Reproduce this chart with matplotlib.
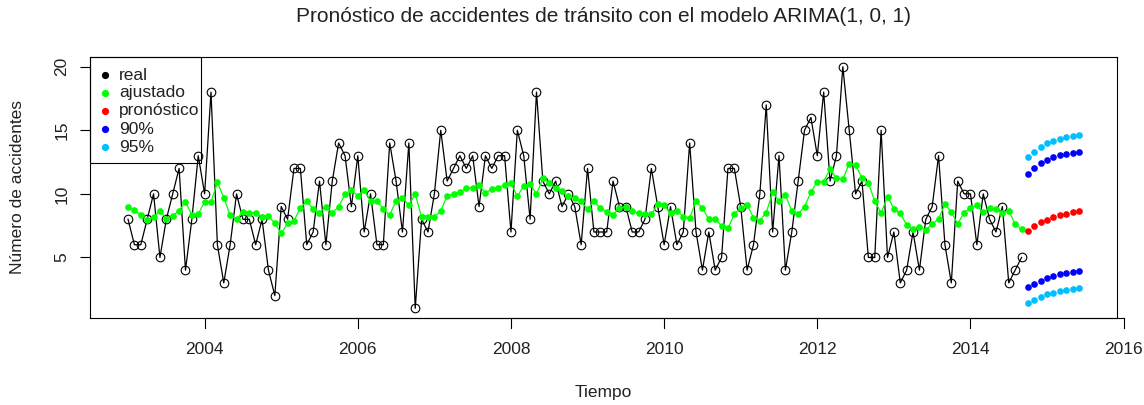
import matplotlib
matplotlib.use('Agg')
import matplotlib.pyplot as plt
import numpy as np
from matplotlib.transforms import offset_copy
from matplotlib.patches import Rectangle

plt.rcParams['font.family'] = ['Liberation Sans', 'DejaVu Sans']

# ---------------- data ----------------
start_year = 2003
real = [
    8, 6, 6, 8, 10, 5, 8, 10, 12, 4, 8, 13,        # 2003
    10, 18, 6, 3, 6, 10, 8, 8, 6, 8, 4, 2,         # 2004
    9, 8, 12, 12, 6, 7, 11, 6, 11, 14, 13, 9,      # 2005
    13, 7, 10, 6, 6, 14, 11, 7, 14, 1, 8, 7,       # 2006
    10, 15, 11, 12, 13, 12, 13, 9, 13, 12, 13, 13, # 2007
    7, 15, 13, 8, 18, 11, 10, 11, 9, 10, 9, 6,     # 2008
    12, 7, 7, 7, 11, 9, 9, 7, 7, 8, 12, 9,         # 2009
    6, 9, 6, 7, 14, 7, 4, 7, 4, 5, 12, 12,         # 2010
    9, 4, 6, 10, 17, 7, 13, 4, 7, 11, 15, 16,      # 2011
    13, 18, 11, 13, 20, 15, 10, 11, 5, 5, 15, 5,   # 2012
    7, 3, 4, 7, 4, 8, 9, 13, 6, 3, 11, 10,         # 2013
    10, 6, 10, 8, 7, 9, 3, 4, 5,                   # 2014
]
fitted = [
    8.93, 8.72, 8.35, 7.95, 8.16, 8.69, 8.06, 8.28, 8.68, 9.37, 8.35, 8.42,
    9.37, 9.37, 10.90, 9.71, 8.30, 8.00, 8.60, 8.53, 8.53, 8.17, 8.25, 7.69,
    6.90, 7.67, 7.90, 8.87, 9.43, 8.80, 8.50, 9.00, 8.50, 9.00, 9.97, 10.30,
    9.87, 10.30, 9.45, 9.45, 8.80, 8.35, 9.45, 9.70, 9.10, 10.00, 8.16, 8.22,
    8.16, 8.66, 9.87, 9.97, 10.13, 10.45, 10.50, 10.70, 10.05, 10.38, 10.50, 10.68,
    10.84, 9.80, 10.62, 10.80, 9.98, 11.23, 10.86, 10.45, 10.20, 9.80, 9.68, 9.40,
    8.80, 9.40, 8.87, 8.61, 8.35, 8.92, 9.00, 8.66, 8.48, 8.40, 8.40, 9.19,
    9.13, 8.48, 8.66, 8.21, 8.14, 9.40, 8.87, 8.00, 8.00, 7.48, 7.30, 8.40,
    8.92, 9.13, 8.14, 7.90, 8.53, 10.13, 9.40, 9.92, 8.66, 8.40, 9.00, 10.13,
    10.97, 10.97, 11.94, 11.23, 11.16, 12.36, 12.28, 11.23, 10.84, 9.45, 8.48, 9.79,
    8.82, 8.48, 7.56, 7.24, 7.43, 7.17, 7.61, 8.03, 9.19, 8.56, 7.64, 8.53,
    8.87, 9.13, 8.56, 8.87, 8.80, 8.53, 8.69, 7.61, 7.22,
]
forecast = [7.11, 7.46, 7.76, 7.98, 8.16, 8.31, 8.44, 8.55, 8.63]
upper90 = [11.57, 12.02, 12.41, 12.68, 12.86, 13.02, 13.15, 13.25, 13.33]
lower90 = [2.65, 2.89, 3.15, 3.36, 3.54, 3.68, 3.80, 3.88, 3.96]
upper95 = [12.89, 13.33, 13.67, 13.99, 14.12, 14.30, 14.46, 14.57, 14.65]
lower95 = [1.44, 1.65, 1.87, 2.10, 2.23, 2.36, 2.44, 2.52, 2.57]

x_ticks = [2004, 2006, 2008, 2010, 2012, 2014, 2016]
y_ticks = [5, 10, 15, 20]
legend_labels = ['real', 'ajustado', 'pronóstico', '90%', '95%']
title = 'Pronóstico de accidentes de tránsito con el modelo ARIMA(1, 0, 1)'
xlabel = 'Tiempo'
ylabel = 'Número de accidentes'

# ---------------- styles ----------------
GREEN = '#00ff00'
RED = '#ff0000'
BLUE = '#0000ff'
LBLUE = '#00bfff'
legend_colors = ['black', GREEN, RED, BLUE, LBLUE]
FS = 12.5
FS_TITLE = 15

W, H = 1144, 405
L, R, T, B = 90, 1117, 57, 318
fig = plt.figure(figsize=(W / 100, H / 100), dpi=100)
ax = fig.add_axes([L / W, 1 - B / H, (R - L) / W, (B - T) / H])

t_real = start_year + np.arange(len(real)) / 12
t_fc = start_year + (len(real) + np.arange(len(forecast))) / 12

ax.plot(t_real, real, color='black', lw=0.9, marker='o', ms=6.2,
        mfc='none', mec='black', mew=0.8, zorder=3)
ax.plot(t_real, fitted, color=GREEN, lw=0.9, marker='o', ms=4.8,
        mfc=GREEN, mec=GREEN, mew=0, zorder=4)
for vals, col in [(forecast, RED), (upper90, BLUE), (lower90, BLUE),
                  (upper95, LBLUE), (lower95, LBLUE)]:
    ax.plot(t_fc, vals, ls='none', marker='o', ms=4.8, mfc=col, mec=col,
            mew=0, zorder=5)

# R-like 4% axis extension
x0, x1 = t_real[0], t_fc[-1]
ymin = min(min(real), min(lower95))
ymax = max(max(real), max(upper95))
ax.set_xlim(x0 - 0.04 * (x1 - x0), x1 + 0.04 * (x1 - x0))
ax.set_ylim(ymin - 0.04 * (ymax - ymin), ymax + 0.04 * (ymax - ymin))

for s in ax.spines.values():
    s.set_linewidth(0.8)
    s.set_color('black')

# y axis
ax.set_yticks(y_ticks)
ax.set_yticklabels([])
ax.tick_params(axis='y', length=7.2, width=0.8, direction='out')
ytr = offset_copy(ax.get_yaxis_transform(), fig=fig, x=-(L - 62), y=0, units='dots')
for v in y_ticks:
    ax.text(0, v, str(v), transform=ytr, rotation=90, ha='center', va='center',
            fontsize=FS, color='#222222')

# x axis (manual, R draws 2016 beyond the box)
ax.set_xticks([])
xt = ax.get_xaxis_transform()
ax.plot([x_ticks[0], x_ticks[-1]], [0, 0], transform=xt, clip_on=False,
        color='black', lw=0.8)
tick_len = 10 / (B - T)
xtr = offset_copy(xt, fig=fig, x=0, y=-(350 - B), units='dots')
for xv in x_ticks:
    ax.plot([xv, xv], [0, -tick_len], transform=xt, clip_on=False,
            color='black', lw=0.8)
    ax.text(xv, 0, str(xv), transform=xtr, ha='center', va='center',
            fontsize=FS, color='#222222')

# titles
cx = (L + R) / 2 / W
fig.text(cx, 1 - 17 / H, title, ha='center', va='center', fontsize=FS_TITLE,
         color='#222222')
fig.text(cx, 1 - 392 / H, xlabel, ha='center', va='center', fontsize=FS,
         color='#222222')
fig.text(18 / W, 1 - (T + B) / 2 / H, ylabel, ha='center', va='center',
         rotation=90, fontsize=FS, color='#222222')

# legend (manual, R style)
fig.patches.append(Rectangle((L / W, 1 - 163 / H), (201 - L) / W, (163 - T) / H,
                             transform=fig.transFigure, fill=False,
                             edgecolor='black', lw=0.8, zorder=2))
rows_y = [75, 93, 111, 129, 147]
for lab, col, yy in zip(legend_labels, legend_colors, rows_y):
    fig.lines.append(plt.Line2D([105 / W], [1 - yy / H], transform=fig.transFigure,
                                ls='none', marker='o', ms=5.2, mfc=col, mec=col, mew=0))
    fig.text(119 / W, 1 - yy / H, lab, ha='left', va='center', fontsize=FS,
             color='#222222')

fig.savefig('out.png', dpi=100)
